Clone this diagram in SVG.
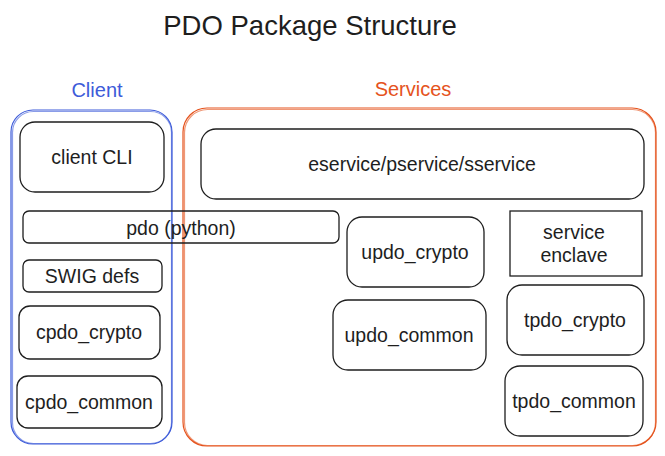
<svg xmlns="http://www.w3.org/2000/svg" width="665" height="456" viewBox="0 0 665 456">
<style>
text{font-family:"Liberation Sans",Arial,sans-serif;font-size:19.5px;fill:#1e1e1e;text-anchor:middle;dominant-baseline:central}
.n{fill:#fff;stroke:#1e1e1e;stroke-width:1.3}
.cl{fill:none;stroke:#3d5bd9;stroke-width:1.2}
.sv{fill:none;stroke:#e5531d;stroke-width:1.2}
</style>
<rect width="665" height="456" fill="#fff"/>
<text x="310" y="25" style="font-size:27.5px">PDO Package Structure</text>
<g id="client">
<rect class="cl" x="11" y="110" width="161" height="334" rx="22"/>
<rect class="cl" x="12.5" y="111.5" width="159" height="332" rx="21" opacity="0.6"/>
<text x="97" y="90" style="fill:#3d5bd9;font-size:20px">Client</text>
</g>
<g id="services">
<rect class="sv" x="183" y="108" width="473" height="338" rx="24"/>
<rect class="sv" x="184.5" y="109.5" width="471" height="336" rx="23" opacity="0.6"/>
<text x="413" y="89" style="fill:#e5531d;font-size:20px">Services</text>
</g>
<g id="client-cli"><rect class="n" x="20" y="122" width="144" height="70" rx="15"/><text x="92" y="157">client CLI</text></g>
<g id="pdo-python"><rect class="n" x="23" y="211" width="316" height="32" rx="6" fill-opacity="0"/><text x="181" y="228">pdo (python)</text></g>
<g id="swig-defs"><rect class="n" x="23" y="260" width="139" height="32" rx="6"/><text x="92" y="276">SWIG defs</text></g>
<g id="cpdo-crypto"><rect class="n" x="19" y="306" width="141" height="53" rx="11"/><text x="89" y="332">cpdo_crypto</text></g>
<g id="cpdo-common"><rect class="n" x="17" y="376" width="145" height="52" rx="11"/><text x="89" y="402">cpdo_common</text></g>
<g id="eservice"><rect class="n" x="201" y="129" width="443" height="70" rx="15"/><text x="422" y="164">eservice/pservice/sservice</text></g>
<g id="updo-crypto"><rect class="n" x="347" y="217" width="137" height="70" rx="15"/><text x="415" y="252">updo_crypto</text></g>
<g id="service-enclave"><rect class="n" x="510" y="211" width="132" height="65"/><text x="574" y="232">service</text><text x="574" y="255">enclave</text></g>
<g id="updo-common"><rect class="n" x="333" y="300" width="153" height="70" rx="15"/><text x="409" y="335">updo_common</text></g>
<g id="tpdo-crypto"><rect class="n" x="507" y="285" width="137" height="70" rx="15"/><text x="575" y="320">tpdo_crypto</text></g>
<g id="tpdo-common"><rect class="n" x="505" y="366" width="138" height="70" rx="15"/><text x="574" y="401">tpdo_common</text></g>
<g id="connectors"></g>
</svg>
